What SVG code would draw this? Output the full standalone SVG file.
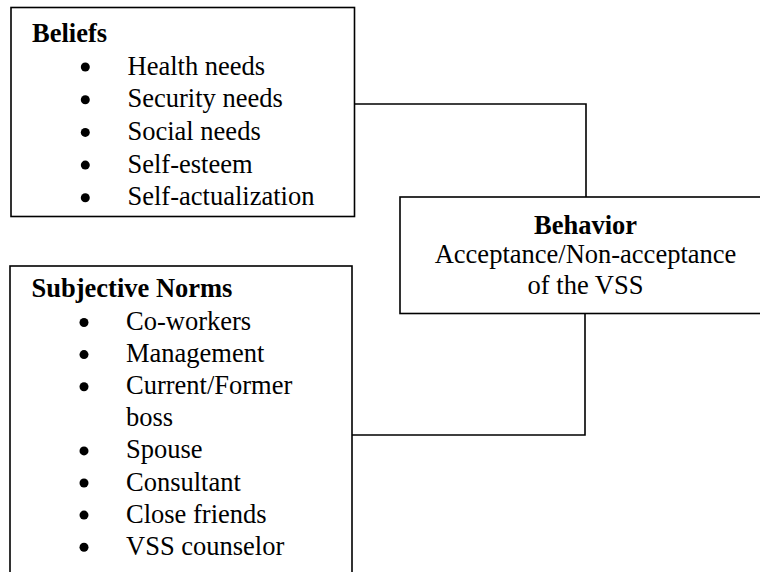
<svg xmlns="http://www.w3.org/2000/svg" width="760" height="572" viewBox="0 0 760 572">
<style>
.box{fill:#fff;stroke:#000;stroke-width:1.6}
.conn{fill:none;stroke:#000;stroke-width:1.6}
text{font-family:"Liberation Serif","Times New Roman",serif;font-size:26.5px;fill:#000}
.b{font-weight:bold}
.c{text-anchor:middle}
.dot{fill:#000}
</style>
<rect width="760" height="572" fill="#fff"/>
<g id="connectors">
<polyline class="conn" points="355,104 586,104 586,197"/>
<polyline class="conn" points="352,435 585,435 585,314"/>
</g>
<g id="beliefs">
<rect class="box" x="11" y="7.5" width="343.5" height="209"/>
<text class="b" x="32" y="42">Beliefs</text>
<circle class="dot" cx="85.3" cy="67" r="4.5"/>
<circle class="dot" cx="85.3" cy="99.7" r="4.5"/>
<circle class="dot" cx="85.3" cy="132.4" r="4.5"/>
<circle class="dot" cx="85.3" cy="165.1" r="4.5"/>
<circle class="dot" cx="85.3" cy="197.8" r="4.5"/>
<text x="127.5" y="74.5">Health needs</text>
<text x="127.5" y="107.2">Security needs</text>
<text x="127.5" y="139.9">Social needs</text>
<text x="127.5" y="172.6">Self-esteem</text>
<text x="127.5" y="205.3">Self-actualization</text>
</g>
<g id="norms">
<rect class="box" x="10" y="266" width="342" height="330"/>
<text class="b" x="31.5" y="297">Subjective Norms</text>
<circle class="dot" cx="84" cy="322.5" r="4.5"/>
<circle class="dot" cx="84" cy="354.6" r="4.5"/>
<circle class="dot" cx="84" cy="386.7" r="4.5"/>
<circle class="dot" cx="84" cy="450.9" r="4.5"/>
<circle class="dot" cx="84" cy="483" r="4.5"/>
<circle class="dot" cx="84" cy="515.1" r="4.5"/>
<circle class="dot" cx="84" cy="547.2" r="4.5"/>
<text x="126" y="330">Co-workers</text>
<text x="126" y="362.1">Management</text>
<text x="126" y="394.2">Current/Former</text>
<text x="126" y="426.3">boss</text>
<text x="126" y="458.4">Spouse</text>
<text x="126" y="490.5">Consultant</text>
<text x="126" y="522.6">Close friends</text>
<text x="126" y="554.7">VSS counselor</text>
</g>
<g id="behavior">
<rect class="box" x="400" y="197" width="372" height="116.5"/>
<text class="b c" x="585.5" y="233.5">Behavior</text>
<text class="c" x="585.5" y="262.5">Acceptance/Non-acceptance</text>
<text class="c" x="585.5" y="293.5">of the VSS</text>
</g>
</svg>
